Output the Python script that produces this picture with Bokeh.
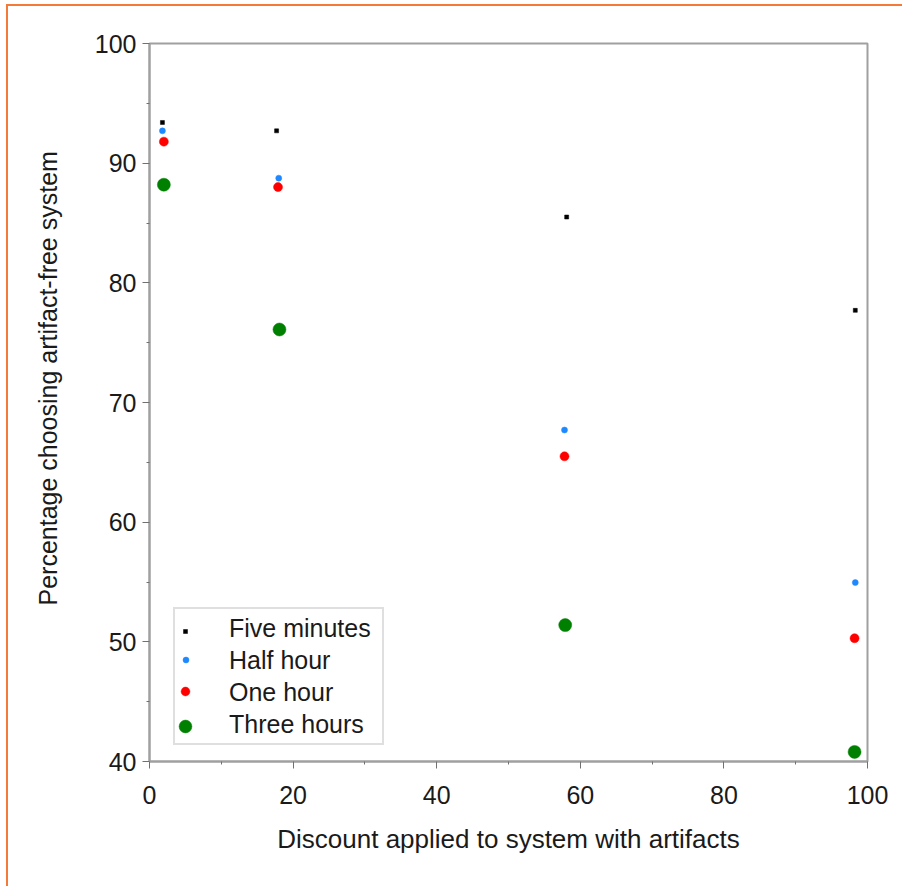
import math
from bokeh.plotting import figure
from bokeh.models import Range1d, Legend, LegendItem, Title, FixedTicker
from bokeh.embed import file_html
from bokeh.resources import INLINE

# ---- data ----
series_names = ["Five minutes", "Half hour", "One hour", "Three hours"]
x_five = [1.8, 17.7, 58.1, 98.3]
y_five = [93.4, 92.7, 85.5, 77.7]
x_half = [1.8, 18.0, 57.8, 98.3]
y_half = [92.7, 88.75, 67.7, 54.95]
x_one = [2.0, 17.9, 57.8, 98.2]
y_one = [91.8, 88.0, 65.5, 50.3]
x_three = [2.0, 18.1, 57.9, 98.2]
y_three = [88.2, 76.1, 51.4, 40.8]
x_ticks = [0, 20, 40, 60, 80, 100]
y_ticks = [40, 50, 60, 70, 80, 90, 100]

FONT = "Liberation Sans"
TXT = "#1a1a1a"
AX = "#a0a0a0"
ORANGE = "#f47a3a"

W, H = 902, 886
FL, FR, FT, FB = 149, 867, 43, 761

p = figure(width=W, height=H, output_backend="svg", toolbar_location=None,
           x_range=Range1d(0, 100), y_range=Range1d(40, 100),
           min_border_left=FL, min_border_right=W - FR,
           min_border_top=FT, min_border_bottom=H - FB)
p.background_fill_color = "white"
p.border_fill_alpha = 0
# page frame lines (left and top) drawn behind the transparent canvas border
p.styles = {
    "background": (f"linear-gradient({ORANGE},{ORANGE}) 6px 4px / 2px 100% no-repeat, "
                   f"linear-gradient({ORANGE},{ORANGE}) 6px 4px / 100% 2px no-repeat, white"),
}
p.outline_line_color = AX
p.outline_line_width = 2
p.xgrid.visible = False
p.ygrid.visible = False

for ax in (p.xaxis[0], p.yaxis[0]):
    ax.axis_line_color = AX
    ax.axis_line_width = 2
    ax.major_tick_line_color = "#707070"
    ax.minor_tick_line_color = "#707070"
    ax.major_tick_out = 7
    ax.major_tick_in = 0
    ax.minor_tick_out = 3
    ax.minor_tick_in = 0
    ax.major_label_text_font = FONT
    ax.major_label_text_font_size = "25px"
    ax.major_label_text_color = TXT
    ax.axis_label_text_font = FONT
    ax.axis_label_text_font_size = "26px"
    ax.axis_label_text_font_style = "normal"
    ax.axis_label_text_color = TXT

p.xaxis.ticker = FixedTicker(ticks=x_ticks, minor_ticks=[10, 30, 50, 70, 90])
p.yaxis.ticker = FixedTicker(ticks=y_ticks, minor_ticks=[45, 55, 65, 75, 85, 95])
p.xaxis.major_label_standoff = 17
p.yaxis.major_label_standoff = 6
p.xaxis.axis_label = "Discount applied to system with artifacts"
p.xaxis.axis_label_standoff = 17

# y axis title, shifted upward as in the reference
p.add_layout(Title(text="Percentage choosing artifact-free system", align="left",
                   offset=156, standoff=60,
                   text_font=FONT, text_font_size="25px", text_font_style="normal",
                   text_color=TXT), "left")

specs = [
    (x_five, y_five, "square", "black", 4),
    (x_half, y_half, "circle", "#1e88ff", 6),
    (x_one, y_one, "circle", "#ff0000", 9),
    (x_three, y_three, "circle", "#008000", 13),
]
renderers = []
dummies = []
for xs, ys, mk, col, sz in specs:
    r = p.scatter(xs, ys, marker=mk, size=sz, fill_color=col, line_color=col, line_width=0.5)
    renderers.append(r)
    d = p.scatter([], [], marker=mk, size=sz, fill_alpha=0, line_alpha=0)
    dummies.append(d)

# main legend (labels + box); glyphs drawn by overlays below
main_leg = Legend(items=[LegendItem(label=n, renderers=[d]) for n, d in zip(series_names, dummies)],
                  location=(173 - FL, FB - 745),
                  padding=3, spacing=0, margin=0,
                  glyph_width=19, glyph_height=32, label_height=32, label_width=150,
                  label_standoff=32,
                  label_text_font=FONT, label_text_font_size="25px", label_text_color=TXT,
                  border_line_color="#c0c0c0", border_line_width=2,
                  background_fill_color="white", background_fill_alpha=1)
p.add_layout(main_leg)

# per-series legend markers with their own sizes
marker_rows = [631, 659, 691, 726]
glyph_boxes = [10, 15, 22, 32]
for r, cy, g in zip(renderers, marker_rows, glyph_boxes):
    lg = Legend(items=[LegendItem(label=" ", renderers=[r])],
                location=(185 - FL - g / 2, FB - cy - g / 2),
                padding=0, spacing=0, margin=0,
                glyph_width=g, glyph_height=g, label_height=g, label_width=0,
                label_standoff=0, label_text_font_size="1px",
                border_line_alpha=0, background_fill_alpha=0)
    p.add_layout(lg)

open("out.html", "w").write(file_html(p, INLINE))
